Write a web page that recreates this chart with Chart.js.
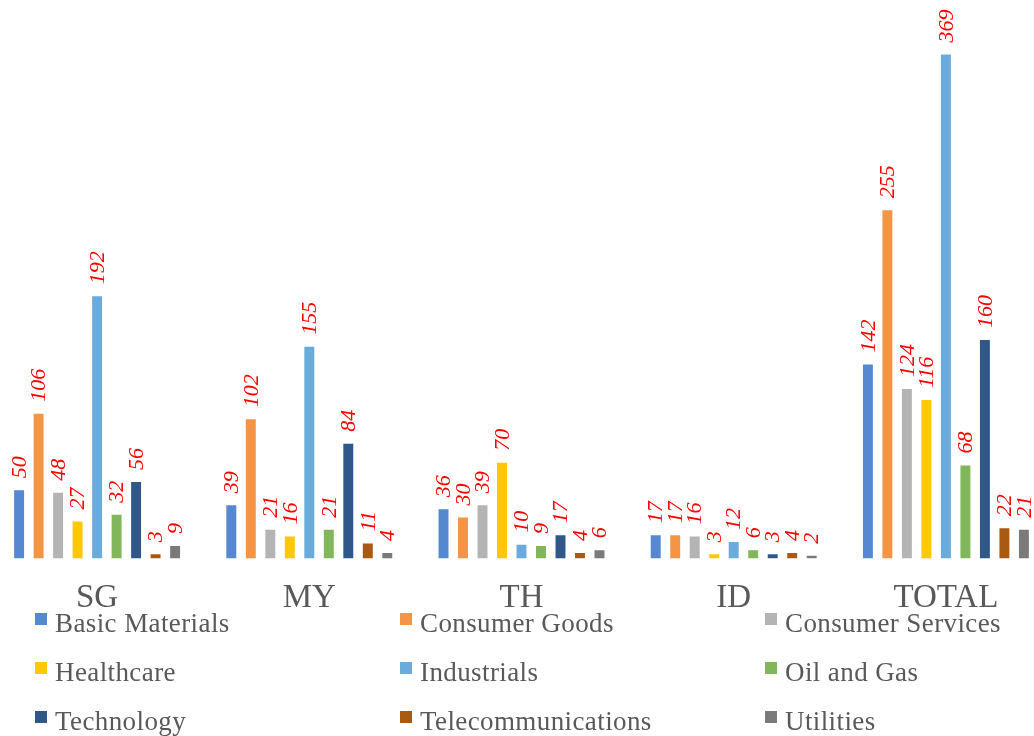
<!DOCTYPE html>
<html>
<head>
<meta charset="utf-8">
<script src="https://cdn.jsdelivr.net/npm/chart.js@4.4.1/dist/chart.umd.min.js"></script>
<style>
    html, body { margin: 0; padding: 0; background: #fff; overflow: hidden; }
    #wrap { position: relative; width: 1034px; height: 736px; overflow: hidden; }
    #chart { position: absolute; left: -9px; top: 0; }
    .lg-item { position: absolute; font-family: "Liberation Serif", "Times New Roman", serif;
        font-size: 27px; line-height: 27px; color: #595959; white-space: nowrap; letter-spacing: 0.4px; }
    .lg-box { position: absolute; width: 12px; height: 12px; }
    .lg-text { position: absolute; left: 20px; top: -3px; }
</style>
</head>
<body>
<div id="wrap">
    <canvas id="chart" width="1061" height="736"></canvas>
    <div id="legend"></div>
</div>
<script>
// ============================================================
// Sector counts by market
// ============================================================

const markets = ["SG", "MY", "TH", "ID", "TOTAL"];

const sectors = [
    "Basic Materials", "Consumer Goods", "Consumer Services",
    "Healthcare", "Industrials", "Oil and Gas",
    "Technology", "Telecommunications", "Utilities"
];

const sectorColors = [
    "#5588D0", "#F39545", "#B4B4B4",
    "#FFC800", "#6AABDC", "#82B65A",
    "#2F5889", "#A85A10", "#7A7A7A"
];

// one array per sector, in market order
const basicMaterials    = [50, 39, 36, 17, 142];
const consumerGoods     = [106, 102, 30, 17, 255];
const consumerServices  = [48, 21, 39, 16, 124];
const healthcare        = [27, 16, 70, 3, 116];
const industrials       = [192, 155, 10, 12, 369];
const oilAndGas         = [32, 21, 9, 6, 68];
const technology        = [56, 84, 17, 3, 160];
const telecommunications = [3, 11, 4, 4, 22];
const utilities         = [9, 4, 6, 2, 21];

const sectorValues = [
    basicMaterials, consumerGoods, consumerServices,
    healthcare, industrials, oilAndGas,
    technology, telecommunications, utilities
];

const SERIF = "'Liberation Serif', 'Times New Roman', serif";

// value labels, rotated, above each bar
const barLabels = {
    id: "barLabels",
    afterDatasetsDraw(chart) {
        const ctx = chart.ctx;
        ctx.save();
        ctx.fillStyle = "#FF0000";
        ctx.font = "italic 22px " + SERIF;
        ctx.textAlign = "left";
        ctx.textBaseline = "middle";
        chart.data.datasets.forEach((ds, i) => {
            chart.getDatasetMeta(i).data.forEach((bar, j) => {
                ctx.save();
                ctx.translate(bar.x + 1, bar.y - 12);
                ctx.rotate(-Math.PI / 2);
                ctx.fillText(String(ds.data[j]), 0, 0);
                ctx.restore();
            });
        });
        ctx.restore();
    }
};

const chart = new Chart(document.getElementById("chart").getContext("2d"), {
    type: "bar",
    data: {
        labels: markets,
        datasets: sectors.map((name, i) => ({
            label: name,
            data: sectorValues[i],
            backgroundColor: sectorColors[i],
            borderWidth: 0,
            categoryPercentage: 0.827,
            barPercentage: 0.51
        }))
    },
    options: {
        responsive: false,
        animation: false,
        layout: { padding: { top: 0, bottom: 98, left: 0, right: 0 } },
        plugins: {
            legend: { display: false },
            tooltip: { enabled: false }
        },
        scales: {
            x: {
                grid: { display: false, drawTicks: false },
                border: { display: false },
                ticks: {
                    color: "#595959",
                    font: { family: SERIF, size: 33 },
                    padding: 20
                }
            },
            y: {
                display: false,
                min: 0,
                max: 409
            }
        }
    },
    plugins: [barLabels]
});

// legend: 3 columns x 3 rows
const legendEl = document.getElementById("legend");
sectors.forEach((name, i) => {
    const col = i % 3, row = Math.floor(i / 3);
    const item = document.createElement("div");
    item.className = "lg-item";
    item.style.left = (35 + col * 365) + "px";
    item.style.top = (613 + row * 49) + "px";
    item.innerHTML = `<div class="lg-box" style="background:${sectorColors[i]}"></div>` +
        `<div class="lg-text">${name}</div>`;
    legendEl.appendChild(item);
});
</script>
</body>
</html>
